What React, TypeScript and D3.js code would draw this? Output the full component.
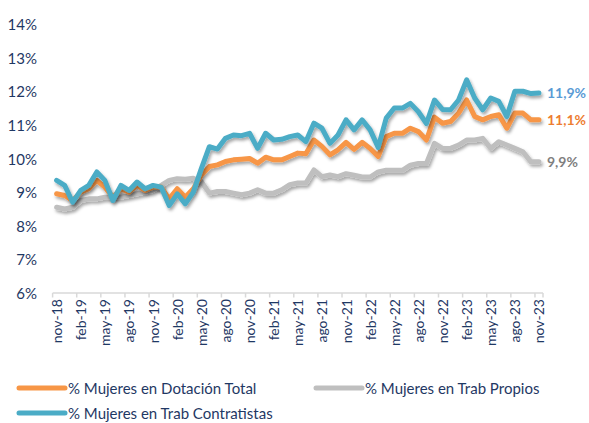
import React from "react";
import * as d3 from "d3";

const categories = [
  "nov-18","dic-18","ene-19","feb-19","mar-19","abr-19","may-19","jun-19","jul-19","ago-19","sep-19","oct-19",
  "nov-19","dic-19","ene-20","feb-20","mar-20","abr-20","may-20","jun-20","jul-20","ago-20","sep-20","oct-20",
  "nov-20","dic-20","ene-21","feb-21","mar-21","abr-21","may-21","jun-21","jul-21","ago-21","sep-21","oct-21",
  "nov-21","dic-21","ene-22","feb-22","mar-22","abr-22","may-22","jun-22","jul-22","ago-22","sep-22","oct-22",
  "nov-22","dic-22","ene-23","feb-23","mar-23","abr-23","may-23","jun-23","jul-23","ago-23","sep-23","oct-23",
  "nov-23",
];

const dotacionTotal = [
  8.95, 8.9, 8.75, 9.0, 9.1, 9.35, 9.15, 8.85, 9.1, 9.0, 9.2, 9.05,
  9.15, 9.15, 8.8, 9.1, 8.85, 9.1, 9.5, 9.76, 9.81, 9.91, 9.96, 9.98,
  10.0, 9.86, 10.04, 9.96, 9.96, 10.06, 10.16, 10.14, 10.55, 10.36, 10.11, 10.26,
  10.48, 10.27, 10.48, 10.3, 10.06, 10.65, 10.75, 10.75, 10.9, 10.8, 10.55, 11.23,
  11.05, 11.1, 11.35, 11.74, 11.25, 11.15, 11.25, 11.3, 10.9, 11.35, 11.35, 11.15,
  11.15,
];

const trabPropios = [
  8.55, 8.5, 8.55, 8.75, 8.8, 8.8, 8.85, 8.85, 8.85, 8.9, 8.95, 9.0,
  9.05, 9.2, 9.35, 9.4, 9.38, 9.41, 9.31, 8.97, 9.02, 9.02, 8.97, 8.92,
  8.97, 9.07, 8.97, 8.97, 9.07, 9.22, 9.27, 9.27, 9.66, 9.46, 9.51, 9.46,
  9.55, 9.5, 9.45, 9.45, 9.6, 9.65, 9.65, 9.65, 9.8, 9.85, 9.85, 10.45,
  10.3, 10.3, 10.4, 10.55, 10.55, 10.6, 10.3, 10.5, 10.4, 10.3, 10.2, 9.9,
  9.9,
];

const trabContratistas = [
  9.35, 9.2, 8.7, 9.05, 9.2, 9.6, 9.35, 8.75, 9.2, 9.05, 9.3, 9.1,
  9.2, 9.15, 8.6, 8.95, 8.65, 9.0, 9.7, 10.35, 10.28, 10.6, 10.7, 10.68,
  10.75, 10.3, 10.75, 10.55, 10.57, 10.65, 10.7, 10.5, 11.05, 10.9, 10.45, 10.7,
  11.15, 10.85, 11.15, 10.85, 10.33, 11.2, 11.5, 11.5, 11.64, 11.39, 11.04, 11.74,
  11.46, 11.45, 11.74, 12.34, 11.8, 11.45, 11.8, 11.7, 11.25, 12.0, 12.0, 11.93,
  11.95,
];

const yTicks = [6, 7, 8, 9, 10, 11, 12, 13, 14];
const endLabels = ["11,9%", "11,1%", "9,9%"];

const series = [
  { name: "% Mujeres en Trab Propios", values: trabPropios, color: "#BFBFBF", label: endLabels[2], labelColor: "#7F7F7F" },
  { name: "% Mujeres en Dotación Total", values: dotacionTotal, color: "#F79646", label: endLabels[1], labelColor: "#ED7D31" },
  { name: "% Mujeres en Trab Contratistas", values: trabContratistas, color: "#4BACC6", label: endLabels[0], labelColor: "#5B9BD5" },
];

const W = 589;
const H = 423;
const FONT = "Lato, 'Open Sans', sans-serif";
const NAVY = "#1F3864";

export default function App() {
  const x = d3.scaleBand<string>().domain(categories).range([52.6, 543]).padding(0);
  const y = d3.scaleLinear().domain([6, 14]).range([293, 24]);
  const cx = (i: number) => (x(categories[i]) as number) + x.bandwidth() / 2;
  const line = d3
    .line<number>()
    .x((_, i) => cx(i))
    .y((d) => y(d));

  const tickIdx = categories.map((_, i) => i).filter((i) => i % 3 === 0);
  const last = categories.length - 1;

  const legend = [
    { s: series[1], x: 19, y: 388 },
    { s: series[0], x: 316, y: 388 },
    { s: series[2], x: 19, y: 413 },
  ];

  return (
    <div style={{ position: "fixed", left: 0, top: 0 }}>
      <svg width={W} height={H} style={{ display: "block", background: "#fff" }}>
        <defs>
          <filter id="shadow" x="-10%" y="-20%" width="120%" height="150%">
            <feDropShadow dx="1.5" dy="2.5" stdDeviation="1.6" floodColor="#000" floodOpacity="0.35" />
          </filter>
        </defs>

        {yTicks.map((t) => (
          <text
            key={t}
            x={37}
            y={y(t)}
            textAnchor="end"
            dominantBaseline="central"
            fontFamily={FONT}
            fontSize={15}
            fill={NAVY}
          >
            {t}%
          </text>
        ))}

        <line x1={52.6} x2={543} y1={y(6)} y2={y(6)} stroke="#D9D9D9" strokeWidth={1.5} />
        {[...tickIdx.map((i) => x(categories[i]) as number), 543].map((tx, k) => (
          <line key={k} x1={tx} x2={tx} y1={y(6)} y2={y(6) + 4.5} stroke="#D9D9D9" strokeWidth={1.5} />
        ))}
        {tickIdx.map((i) => (
          <text
            key={i}
            transform={`translate(${cx(i)},${y(6) + 6}) rotate(-90)`}
            textAnchor="end"
            dominantBaseline="central"
            fontFamily={FONT}
            fontSize={14}
            fill={NAVY}
          >
            {categories[i]}
          </text>
        ))}

        {series.map((s) => (
          <path
            key={s.name}
            d={line(s.values) as string}
            fill="none"
            stroke={s.color}
            strokeWidth={5}
            strokeLinejoin="round"
            strokeLinecap="round"
            filter="url(#shadow)"
          />
        ))}

        {series.map((s) => (
          <text
            key={s.name + "l"}
            x={cx(last) + 8}
            y={y(s.values[last])}
            dominantBaseline="central"
            fontFamily={FONT}
            fontWeight="bold"
            fontSize={14}
            fill={s.labelColor}
          >
            {s.label}
          </text>
        ))}

        {legend.map((l) => (
          <g key={l.s.name}>
            <line x1={l.x} x2={l.x + 46} y1={l.y} y2={l.y} stroke={l.s.color} strokeWidth={5} strokeLinecap="round" />
            <text x={l.x + 49} y={l.y} dominantBaseline="central" fontFamily={FONT} fontSize={15} fill={NAVY}>
              {l.s.name}
            </text>
          </g>
        ))}
      </svg>
    </div>
  );
}
